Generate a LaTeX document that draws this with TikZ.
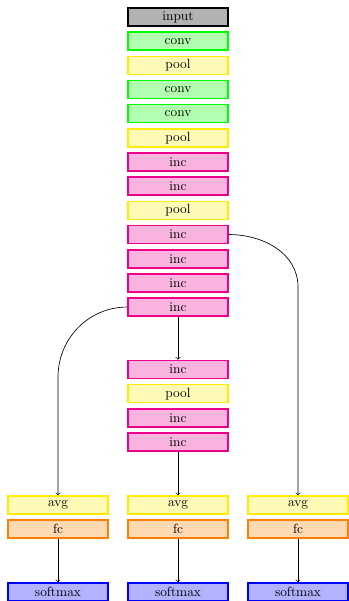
\documentclass[tikz,border=0pt]{standalone}
\usetikzlibrary{positioning}
\definecolor{incb}{RGB}{236,0,140}
\definecolor{incf}{RGB}{248,180,222}
\definecolor{poolb}{RGB}{255,236,0}
\definecolor{poolf}{RGB}{255,250,182}
\begin{document}
\begin{tikzpicture}[x=0.75pt,y=-0.75pt,
  blk/.style={draw,line width=1.2pt,minimum width=75pt,minimum height=13.5pt,inner sep=0pt,font=\normalsize},
  inp/.style={blk,draw=black,fill=black!30},
  convb/.style={blk,draw=green,fill=green!30},
  poolbx/.style={blk,draw=poolb,fill=poolf},
  incbx/.style={blk,draw=incb,fill=incf},
  avgbx/.style={blk,draw=poolb,fill=poolf},
  fcbx/.style={blk,draw=orange,fill=orange!30},
  smbx/.style={blk,draw=blue,fill=blue!30},
  conn/.style={->,semithin}]
\tikzset{semithin/.style={line width=0.5pt}}
\useasboundingbox (0,0) rectangle (349,601);
\def\p{24.17}
\node[inp]   (n1)  at (178,17) {input};
\node[convb] (n2)  at (178,17+1*\p) {conv};
\node[poolbx](n3)  at (178,17+2*\p) {pool};
\node[convb] (n4)  at (178,17+3*\p) {conv};
\node[convb] (n5)  at (178,17+4*\p) {conv};
\node[poolbx](n6)  at (178,17+5*\p) {pool};
\node[incbx] (n7)  at (178,17+6*\p) {inc};
\node[incbx] (n8)  at (178,17+7*\p) {inc};
\node[poolbx](n9)  at (178,17+8*\p) {pool};
\node[incbx] (n10) at (178,17+9*\p) {inc};
\node[incbx] (n11) at (178,17+10*\p) {inc};
\node[incbx] (n12) at (178,17+11*\p) {inc};
\node[incbx] (n13) at (178,17+12*\p) {inc};
\node[incbx] (n14) at (178,369.5) {inc};
\node[poolbx](n15) at (178,369.5+1*\p) {pool};
\node[incbx] (n16) at (178,369.5+2*\p) {inc};
\node[incbx] (n17) at (178,369.5+3*\p) {inc};
\foreach \c/\x in {a/58,b/178,c/298}{
  \node[avgbx] (avg\c) at (\x,505) {avg};
  \node[fcbx]  (fc\c)  at (\x,529.2) {fc};
  \node[smbx]  (sm\c)  at (\x,592) {softmax};
  \draw[conn] (fc\c) -- (sm\c);
}
\coordinate (cl) at (58,377);
\coordinate (cr) at (298,287);
\draw[conn] (n13) -- (n14);
\draw[conn] (n17) -- (avgb);
\draw[conn] (n13.west) to[out=180,in=90] (cl) -- (avga.north);
\draw[conn] (n10.east) to[out=0,in=90] (cr) -- (avgc.north);
\end{tikzpicture}
\end{document}
